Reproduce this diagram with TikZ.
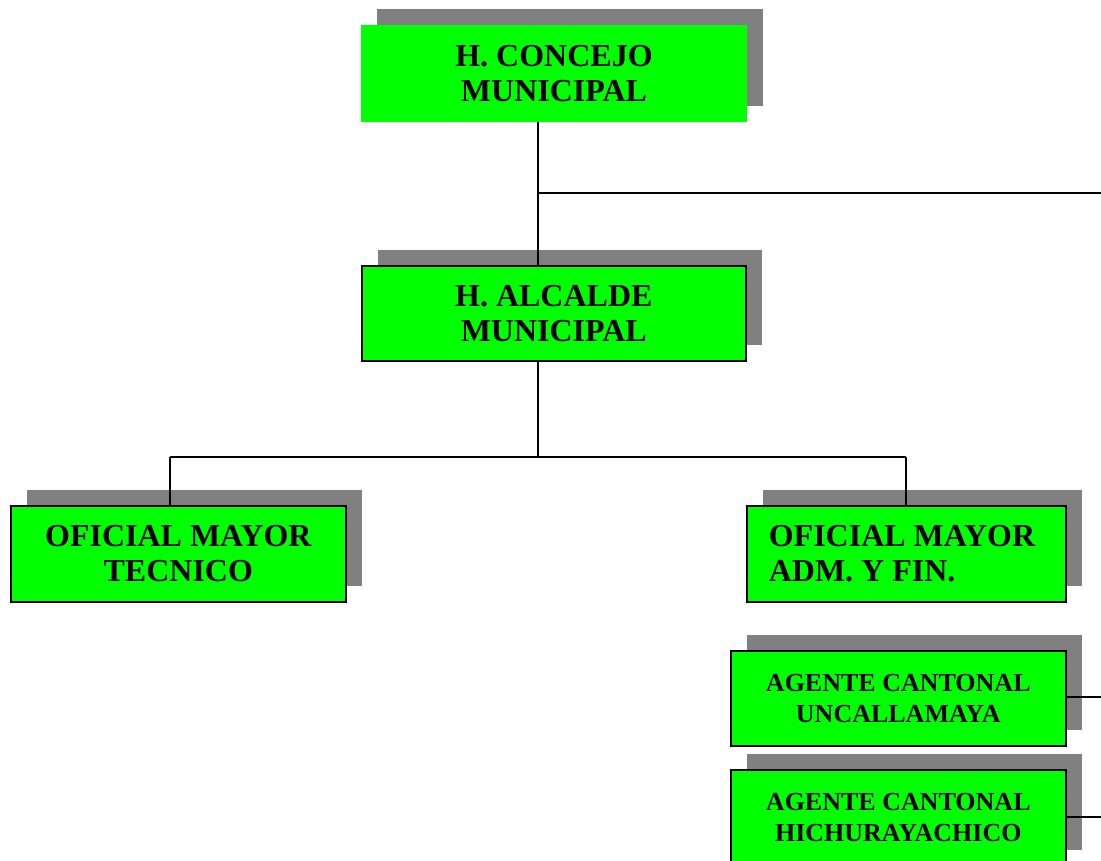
\documentclass[tikz,border=0pt]{standalone}
\usepackage{fontspec}
\setmainfont{Liberation Serif}
\pgfdeclarelayer{shadows}
\pgfdeclarelayer{links}
\pgfsetlayers{shadows,links,main}
\definecolor{boxgreen}{RGB}{0,255,0}
\definecolor{shadowgray}{RGB}{128,128,128}
\tikzset{
  orgbox/.style={fill=boxgreen, draw=black, line width=1.6pt, inner sep=0pt, outer sep=0pt,
    anchor=north west, align=center, font=\bfseries\fontsize{32}{35}\selectfont},
  smallbox/.style={orgbox, font=\bfseries\fontsize{26}{31}\selectfont},
  link/.style={draw=black, line width=1.6pt},
  shadowfill/.style={fill=shadowgray, draw=none}
}
\newcommand{\dropshadow}[1]{%
  \begin{pgfonlayer}{shadows}
    \path[shadowfill] ([xshift=16pt,yshift=16pt]#1.south west) rectangle ([xshift=16pt,yshift=16pt]#1.north east);
  \end{pgfonlayer}}
\begin{document}
\begin{tikzpicture}[x=1pt,y=-1pt]
\useasboundingbox (0,0) rectangle (1101,860);

% boxes
\node[orgbox, draw=none, minimum width=386pt, minimum height=97pt] (concejo) at (361,25) {H. CONCEJO\\MUNICIPAL};
\node[orgbox, minimum width=384pt, minimum height=95pt] (alcalde) at (361.8,265.8) {H. ALCALDE\\MUNICIPAL};
\node[orgbox, minimum width=335pt, minimum height=96pt] (tecnico) at (10.8,505.8) {OFICIAL MAYOR\\TECNICO};
\node[orgbox, align=flush left, text width=275pt, inner xsep=22pt, minimum height=96pt] (adm) at (746.8,505.8) {OFICIAL MAYOR\\ADM. Y FIN.};
\node[smallbox, minimum width=335pt, minimum height=95pt] (uncalla) at (730.8,650.8) {AGENTE CANTONAL\\UNCALLAMAYA};
\node[smallbox, minimum width=335pt, minimum height=96pt] (hichura) at (730.8,769.8) {AGENTE CANTONAL\\HICHURAYACHICO};

\dropshadow{concejo}
\dropshadow{alcalde}
\dropshadow{tecnico}
\dropshadow{adm}
\dropshadow{uncalla}
\dropshadow{hichura}

% connectors
\coordinate (trunk) at (538,193);
\coordinate (farright) at (1101,193);
\coordinate (split) at (538,457);
\coordinate (barL) at (170,457);
\coordinate (barR) at (906,457);
\coordinate (rightU) at (1101,697);
\coordinate (rightH) at (1101,817);
\begin{pgfonlayer}{links}
  \draw[link] (trunk |- concejo.south) -- (trunk |- alcalde.north);
  \draw[link] (trunk) -- (farright);
  \draw[link] (split |- alcalde.south) -- (split);
  \draw[link] (barL) -- (barR);
  \draw[link] (barL) -- (barL |- tecnico.north);
  \draw[link] (barR) -- (barR |- adm.north);
  \draw[link] (uncalla.east |- rightU) -- (rightU);
  \draw[link] (hichura.east |- rightH) -- (rightH);
\end{pgfonlayer}
\end{tikzpicture}
\end{document}
